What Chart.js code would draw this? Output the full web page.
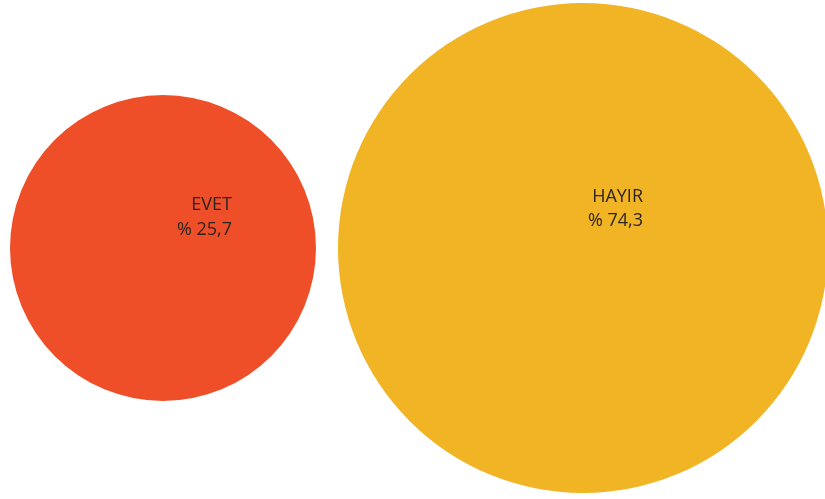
<!DOCTYPE html>
<html>
<head>
<meta charset="utf-8">
<script src="https://cdn.jsdelivr.net/npm/chart.js@4"></script>
<style>
  html, body { margin: 0; padding: 0; background: #ffffff; }
  #wrap { width: 825px; height: 499px; }
</style>
</head>
<body>
<div id="wrap"><canvas id="c" width="825" height="499"></canvas></div>
<script>
// ---- data ----
const categories = ['EVET', 'HAYIR'];
const percentages = [25.7, 74.3];
const valueLabels = ['% 25,7', '% 74,3'];

// ---- style ----
const colors = ['#ee4f28', '#f0b424'];
const maxRadius = 245;
const radiusExponent = 0.4435;
const labelOffsets = [
  { dx: 69, dy1: -38, dy2: -13 },
  { dx: 60, dy1: -46, dy2: -22 }
];

const vmax = Math.max(...percentages);
const points = percentages.map((v, i) => ({ x: i, y: 0 }));

const labelPlugin = {
  id: 'bubbleLabels',
  afterDatasetsDraw(chart) {
    const ctx = chart.ctx;
    const meta = chart.getDatasetMeta(0);
    ctx.save();
    ctx.fillStyle = '#2b2520';
    ctx.font = '18px "Open Sans", sans-serif';
    ctx.textAlign = 'right';
    ctx.textBaseline = 'alphabetic';
    meta.data.forEach((el, i) => {
      const o = labelOffsets[i];
      ctx.fillText(categories[i], el.x + o.dx, el.y + o.dy1);
      ctx.fillText(valueLabels[i], el.x + o.dx, el.y + o.dy2);
    });
    ctx.restore();
  }
};

new Chart(document.getElementById('c'), {
  type: 'bubble',
  data: {
    labels: categories,
    datasets: [{
      label: 'Oran',
      data: points,
      backgroundColor: colors,
      borderColor: colors,
      borderWidth: 0,
      clip: false,
      radius: (ctx) => maxRadius * Math.pow(percentages[ctx.dataIndex] / vmax, radiusExponent)
    }]
  },
  options: {
    responsive: false,
    animation: false,
    events: [],
    layout: { autoPadding: false, padding: { left: 163, right: 242, top: 0, bottom: 3 } },
    scales: {
      x: { type: 'linear', min: 0, max: 1, display: false },
      y: { type: 'linear', min: -1, max: 1, display: false }
    },
    plugins: {
      legend: { display: false },
      tooltip: { enabled: false }
    }
  },
  plugins: [labelPlugin]
});
</script>
</body>
</html>
